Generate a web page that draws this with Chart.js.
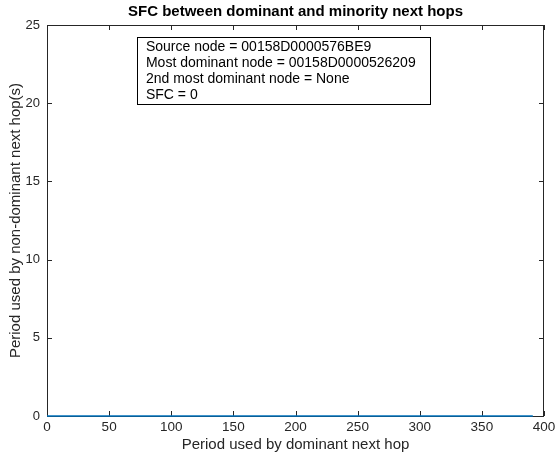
<!DOCTYPE html>
<html>
<head>
<meta charset="utf-8">
<script src="https://cdn.jsdelivr.net/npm/chart.js@4/dist/chart.umd.min.js"></script>
<style>
  html, body { margin: 0; padding: 0; background: #fff; }
  #wrap { width: 556px; height: 455px; }
</style>
</head>
<body>
<div id="wrap"><canvas id="sfcChart"></canvas></div>
<script>
// data
const periodDominant = [0, 50, 100, 150, 200, 250, 300, 350, 391];
const periodNonDominant = [0, 0, 0, 0, 0, 0, 0, 0, 0];
const xTicks = [0, 50, 100, 150, 200, 250, 300, 350, 400];
const yTicks = [0, 5, 10, 15, 20, 25];
const infoLines = [
  "Source node = 00158D0000576BE9",
  "Most dominant node = 00158D0000526209",
  "2nd most dominant node = None",
  "SFC = 0"
];
const chartTitle = "SFC between dominant and minority next hops";

const FONT = "'Liberation Sans', Arial, Helvetica, sans-serif";
const AXIS = "#262626";

// matlab style: box + inward ticks under the line, title and text box on top
const matlabBox = {
  id: "matlabBox",
  beforeDatasetsDraw(chart) {
    const { ctx, chartArea: a, scales } = chart;
    ctx.save();
    ctx.strokeStyle = AXIS;
    ctx.lineWidth = 1;
    ctx.strokeRect(a.left + 0.5, a.top + 0.5, a.right - a.left - 1, a.bottom - a.top);

    const tl = 5;
    ctx.beginPath();
    xTicks.forEach(v => {
      const x = Math.round(scales.x.getPixelForValue(v)) + 0.5;
      ctx.moveTo(x, a.bottom); ctx.lineTo(x, a.bottom - tl);
      ctx.moveTo(x, a.top); ctx.lineTo(x, a.top + tl);
    });
    yTicks.forEach(v => {
      const y = Math.round(scales.y.getPixelForValue(v)) + 0.5;
      ctx.moveTo(a.left, y); ctx.lineTo(a.left + tl, y);
      ctx.moveTo(a.right, y); ctx.lineTo(a.right - tl, y);
    });
    ctx.stroke();
    ctx.restore();
  },
  afterDraw(chart) {
    const { ctx, chartArea: a } = chart;
    ctx.save();
    // title
    ctx.fillStyle = "#000";
    ctx.font = "bold 15px " + FONT;
    ctx.textAlign = "center";
    ctx.textBaseline = "middle";
    ctx.fillText(chartTitle, (a.left + a.right) / 2, 12);

    // info box
    const w = a.right - a.left, h = a.bottom - a.top;
    const bx = a.left + w * 0.181, by = a.top + h * 0.031;
    const bw = 293, bh = 67;
    ctx.fillStyle = "#fff";
    ctx.fillRect(bx, by, bw, bh);
    ctx.strokeStyle = "#000";
    ctx.lineWidth = 1;
    ctx.strokeRect(Math.round(bx) + 0.5, Math.round(by) + 0.5, bw, bh);
    ctx.fillStyle = "#000";
    ctx.font = "14px " + FONT;
    ctx.textAlign = "left";
    infoLines.forEach((t, i) => {
      ctx.fillText(t, bx + 9, by + 10.5 + i * 16);
    });
    ctx.restore();
  }
};

new Chart(document.getElementById("sfcChart"), {
  type: "line",
  data: {
    labels: periodDominant,
    datasets: [{
      data: periodDominant.map((x, i) => ({ x: x, y: periodNonDominant[i] })),
      borderColor: "#0072BD",
      borderWidth: 1.5,
      pointRadius: 0,
      fill: false,
      tension: 0
    }]
  },
  options: {
    responsive: true,
    maintainAspectRatio: false,
    animation: false,
    clip: false,
    layout: { padding: { top: 25, left: 8, right: 12, bottom: 2 } },
    plugins: {
      legend: { display: false },
      tooltip: { enabled: false },
      title: { display: false }
    },
    scales: {
      x: {
        type: "linear",
        min: 0,
        max: 400,
        grid: { display: false, drawTicks: false },
        border: { display: false },
        afterBuildTicks: s => { s.ticks = xTicks.map(v => ({ value: v })); },
        afterFit: s => { s.paddingLeft = 0; s.paddingRight = 0; s.height = 37; },
        ticks: { color: AXIS, font: { family: FONT, size: 13.5 }, padding: 3, maxRotation: 0 },
        title: { display: true, text: "Period used by dominant next hop", color: AXIS, font: { family: FONT, size: 15, lineHeight: 1 }, padding: { top: 0, bottom: 1 } }
      },
      y: {
        min: 0,
        max: 25,
        grid: { display: false, drawTicks: false },
        border: { display: false },
        afterBuildTicks: s => { s.ticks = yTicks.map(v => ({ value: v })); },
        afterFit: s => { s.width = 39; },
        ticks: { color: AXIS, font: { family: FONT, size: 13 }, padding: 7 },
        title: { display: true, text: "Period used by non-dominant next hop(s)", color: AXIS, font: { family: FONT, size: 15, lineHeight: 1 }, padding: { top: 0, bottom: 0 } }
      }
    }
  },
  plugins: [matlabBox]
});
</script>
</body>
</html>
